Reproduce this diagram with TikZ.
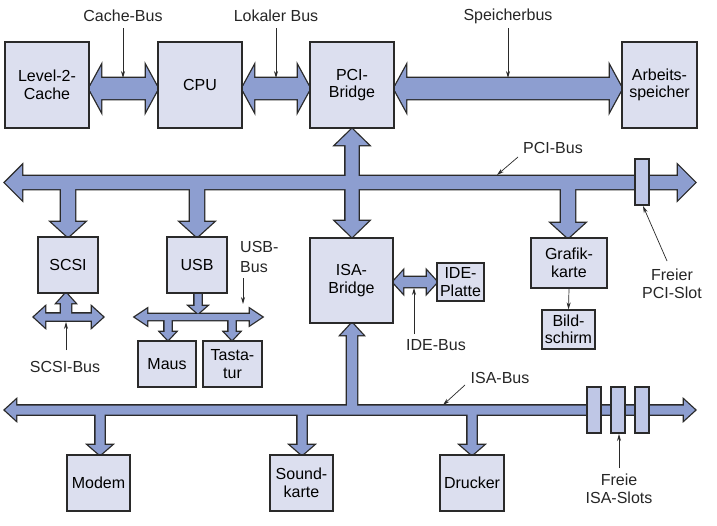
\documentclass[tikz,border=0pt]{standalone}
\usepackage{fontspec}
\setmainfont{Liberation Sans}
\usetikzlibrary{arrows.meta}
\definecolor{boxc}{HTML}{DCDFEF}
\definecolor{busc}{HTML}{8D9ED0}
\definecolor{slotc}{HTML}{BFC7E6}
\definecolor{linec}{HTML}{2A2A2A}
\newcommand\lblfont{\fontsize{16}{17.5}\selectfont}
% horizontal double arrow: x1 x2 y h H L
\newcommand\HDA[6]{(#1,#3) -- ({#1+#6},{#3-#5}) -- ({#1+#6},{#3-#4}) -- ({#2-#6},{#3-#4}) -- ({#2-#6},{#3-#5}) -- (#2,#3) -- ({#2-#6},{#3+#5}) -- ({#2-#6},{#3+#4}) -- ({#1+#6},{#3+#4}) -- ({#1+#6},{#3+#5}) -- cycle}
% vertical double arrow: x ytop ybot h H L
\newcommand\VDA[6]{(#1,#2) -- ({#1+#5},{#2+#6}) -- ({#1+#4},{#2+#6}) -- ({#1+#4},{#3-#6}) -- ({#1+#5},{#3-#6}) -- (#1,#3) -- ({#1-#5},{#3-#6}) -- ({#1-#4},{#3-#6}) -- ({#1-#4},{#2+#6}) -- ({#1-#5},{#2+#6}) -- cycle}
% downward arrow: x ystart ytip h H L
\newcommand\VDN[6]{({#1-#4},#2) -- ({#1+#4},#2) -- ({#1+#4},{#3-#6}) -- ({#1+#5},{#3-#6}) -- (#1,#3) -- ({#1-#5},{#3-#6}) -- ({#1-#4},{#3-#6}) -- cycle}
% upward arrow: x ystart ytip h H L
\newcommand\VUP[6]{({#1-#4},#2) -- ({#1+#4},#2) -- ({#1+#4},{#3+#6}) -- ({#1+#5},{#3+#6}) -- (#1,#3) -- ({#1-#5},{#3+#6}) -- ({#1-#4},{#3+#6}) -- cycle}
\newcommand\allbus[1]{%
  \path[#1] \HDA{89}{158}{88.5}{10.5}{22}{12};
  \path[#1] \HDA{242}{310}{88.5}{10.5}{22}{12};
  \path[#1] \HDA{394}{622}{88.5}{10.5}{22}{12};
  \path[#1] \HDA{5}{695}{182.5}{6.5}{17}{17};
  \path[#1] \VDA{352}{129}{237}{6.5}{16.5}{16};
  \path[#1] \VDN{68}{182.5}{237}{7}{16.5}{15};
  \path[#1] \VDN{197}{182.5}{237}{7}{16.5}{15};
  \path[#1] \VDN{568}{182.5}{238}{7}{16.5}{15};
  \path[#1] \VUP{66}{317}{293}{5}{9}{10};
  \path[#1] \HDA{34}{103}{317}{3.5}{10}{11};
  \path[#1] \VDN{198}{292}{313.5}{3.5}{8.5}{7.5};
  \path[#1] \HDA{135}{262}{317}{3}{8}{12};
  \path[#1] \VDN{168}{317}{340}{3.5}{7.5}{8};
  \path[#1] \VDN{232}{317}{340}{3.5}{7.5}{8};
  \path[#1] \HDA{393}{437}{282}{5}{11}{10};
  \path[#1] \HDA{5}{695}{410}{4.5}{10}{11};
  \path[#1] \VUP{352}{410}{323}{5}{11}{12};
  \path[#1] \VDN{100}{410}{455}{4.5}{11.5}{10};
  \path[#1] \VDN{302}{410}{455}{4.5}{11.5}{10};
  \path[#1] \VDN{472}{410}{455}{4.5}{11.5}{10};
}
\begin{document}
\begin{tikzpicture}[x=1pt,y=-1pt,
  box/.style={draw=linec, fill=boxc, line width=1.2pt, inner sep=0pt, align=center, font=\lblfont},
  lbl/.style={inner sep=0pt, align=center, font=\lblfont, text=black!85},
  slot/.style={draw=linec, fill=slotc, line width=1.1pt},
  ptr/.style={draw=linec, line width=0.7pt, -{Stealth[length=7pt,width=4pt]}}]
\useasboundingbox (0,0) rectangle (717,525);
\fill[white] (0,0) rectangle (717,525);
% buses (union outline trick)
\allbus{draw=linec, line width=2.6pt, line join=miter}
\allbus{fill=busc}
% slots
\draw[slot] (635,159) rectangle (649,205);
\foreach \sx in {587,611,635}{
  \draw[slot] (\sx,387) rectangle ({\sx+14},433);
  \draw[linec, line width=2pt] (\sx,433) -- ({\sx+14},433);
}
% boxes
\node[box, minimum width=84pt, minimum height=86pt] (cache) at (47,85) {Level-2-\\Cache};
\node[box, minimum width=84pt, minimum height=86pt] (cpu) at (200,85) {CPU};
\node[box, minimum width=84pt, minimum height=86pt] (pcib) at (352,85) {PCI-\\Bridge};
\node[box, minimum width=75pt, minimum height=86pt] (mem) at (659.5,85) {Arbeits-\\speicher};
\node[box, minimum width=60pt, minimum height=56pt] (scsi) at (68,265) {SCSI};
\node[box, minimum width=60pt, minimum height=56pt] (usb) at (197,265) {USB};
\node[box, minimum width=83pt, minimum height=85pt] (isab) at (351.5,280.5) {ISA-\\Bridge};
\node[box, minimum width=47pt, minimum height=38pt] (ide) at (460.5,282) {IDE-\\Platte};
\node[box, minimum width=76pt, minimum height=50pt] (grafik) at (569,263) {Grafik-\\karte};
\node[box, minimum width=53pt, minimum height=39pt] (bild) at (568.5,329.5) {Bild-\\schirm};
\node[box, minimum width=58pt, minimum height=46pt] (maus) at (167,364) {Maus};
\node[box, minimum width=59pt, minimum height=46pt] (tast) at (232.5,364) {Tasta-\\tur};
\node[box, minimum width=63pt, minimum height=56pt] (modem) at (98.5,483) {Modem};
\node[box, minimum width=63pt, minimum height=56pt] (sound) at (301.5,483) {Sound-\\karte};
\node[box, minimum width=64pt, minimum height=56pt] (drucker) at (472,483) {Drucker};
% Grafik -> Bildschirm
\draw[ptr] (grafik.south) -- (bild.north);
% labels
\node[lbl] (lcache) at (123,16) {Cache-Bus};
\node[lbl] (llokal) at (276,16) {Lokaler Bus};
\node[lbl] (lspeicher) at (508,16) {Speicherbus};
\node[lbl] (lpci) at (553,148) {PCI-Bus};
\node[lbl] (lpcislot) at (672,284) {Freier\\PCI-Slot};
\node[lbl, align=left, anchor=west] (lusb) at (240,257) {USB-\\[2pt]Bus};
\node[lbl] (lscsi) at (65,367) {SCSI-Bus};
\node[lbl] (lide) at (436,345) {IDE-Bus};
\node[lbl] (lisa) at (500,378) {ISA-Bus};
\node[lbl] (lisaslot) at (619,489) {Freie\\ISA-Slots};
% pointer coordinates
\coordinate (cb1) at (123,28); \coordinate (cb2) at (123,78);
\coordinate (lb1) at (276,28); \coordinate (lb2) at (276,78);
\coordinate (sb1) at (508,28); \coordinate (sb2) at (508,78);
\coordinate (pb1) at (518,157); \coordinate (pb2) at (497,175);
\coordinate (ps1) at (667,261); \coordinate (ps2) at (643,206);
\coordinate (ub1) at (243,278); \coordinate (ub2) at (243,304);
\coordinate (sc1) at (66,350); \coordinate (sc2) at (66,322);
\coordinate (ib1) at (414,334); \coordinate (ib2) at (414,288);
\coordinate (is1) at (465,385); \coordinate (is2) at (443,405);
\coordinate (fs1) at (619,468); \coordinate (fs2) at (619,434);
\draw[ptr] (cb1) -- (cb2);
\draw[ptr] (lb1) -- (lb2);
\draw[ptr] (sb1) -- (sb2);
\draw[ptr] (pb1) -- (pb2);
\draw[ptr] (ps1) -- (ps2);
\draw[ptr] (ub1) -- (ub2);
\draw[ptr] (sc1) -- (sc2);
\draw[ptr] (ib1) -- (ib2);
\draw[ptr] (is1) -- (is2);
\draw[ptr] (fs1) -- (fs2);
\end{tikzpicture}
\end{document}
